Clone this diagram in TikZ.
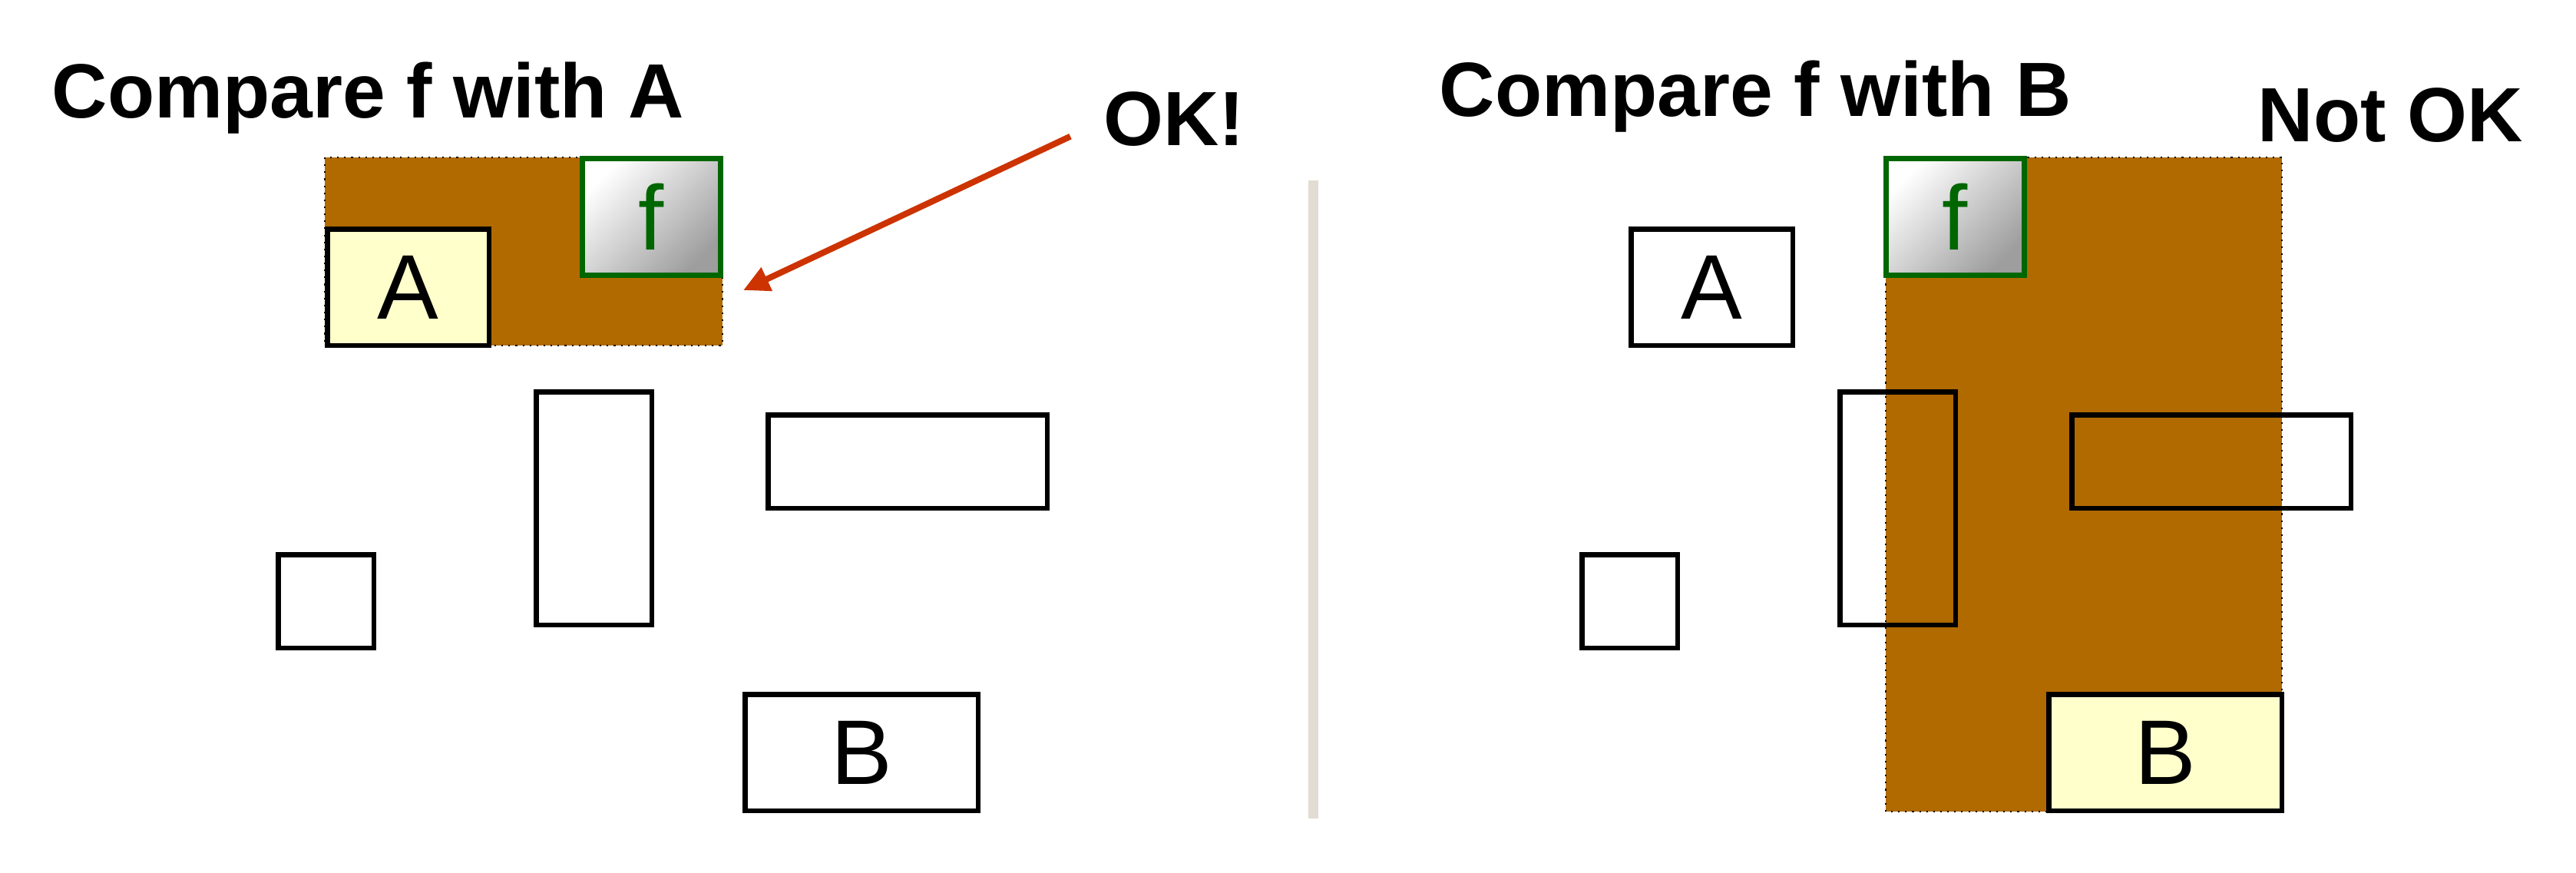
\documentclass[tikz,border=0pt]{standalone}
\usepackage{fontspec}
\setmainfont{Liberation Sans}
\usetikzlibrary{arrows.meta}

\definecolor{regionbrown}{HTML}{B06A00}
\definecolor{boxyellow}{HTML}{FFFFCC}
\definecolor{fgreen}{HTML}{006600}
\definecolor{okred}{HTML}{CC3300}
\definecolor{divider}{HTML}{E2DCD2}

\begin{document}
\begin{tikzpicture}[
    box/.style={draw, line width=0.065cm, inner sep=0pt},
    fbox/.style={draw=fgreen, line width=0.07cm, inner sep=0pt,
      left color=white, right color=black!38, shading angle=45,
      minimum width=1.80cm, minimum height=1.52cm,
      text=fgreen, font=\fontsize{34}{40}\selectfont},
    letter/.style={font=\fontsize{34}{40}\selectfont},
    region/.style={fill=regionbrown, draw=black, dotted, line width=0.6pt},
    title/.style={anchor=base west, inner sep=0pt, font=\bfseries\fontsize{28.5}{34}\selectfont},
    okarrow/.style={draw=okred, line width=0.08cm, -{Triangle[length=0.34cm,width=0.32cm]}}
  ]
      \useasboundingbox (0, 0) rectangle (33.55, 11.36);

      % left: compare f with A
      \node[title] (titleA) at (0.67, 9.83){Compare f with A};
      \node[title] (ok) at (14.37, 9.47){OK!};

      \coordinate (regAnw) at (4.23, 9.31);
      \coordinate (regAse) at (9.41, 6.86);
      \fill[regionbrown] (regAnw) rectangle (regAse);
      \draw[black, dotted, line width=0.6pt] (regAnw) rectangle (regAse);

      \node[box, fill=boxyellow, letter, minimum width=2.105cm, minimum height=1.515cm] (aL) at (5.315, 7.62){A};
      \node[fbox] (fL) at (8.485, 8.535){f};
      \node[box, minimum width=1.505cm, minimum height=3.035cm] (tallL) at (7.735, 4.74){};
      \node[box, minimum width=3.635cm, minimum height=1.215cm] (wideL) at (11.82, 5.35){};
      \node[box, minimum width=1.245cm, minimum height=1.215cm] (smallL) at (4.245, 3.53){};
      \node[box, letter, minimum width=3.035cm, minimum height=1.515cm] (bL) at (11.22, 1.56){B};

      \coordinate (okTip) at (9.68, 7.58);
      \draw[okarrow] ([xshift=-0.43cm, yshift=0.13cm]ok.south west) -- (okTip);

      % divider
      \draw[divider, line width=0.13cm] (17.10, 0.70) to (17.10, 9.01);

      % right: compare f with B
      \node[title] (titleB) at (18.74, 9.85){Compare f with B};
      \node[title] (notok) at (29.40, 9.52){Not OK};

      \coordinate (regBnw) at (24.56, 9.31);
      \coordinate (regBse) at (29.72, 0.79);
      \fill[regionbrown] (regBnw) rectangle (regBse);
      \draw[black, dotted, line width=0.6pt] (regBnw) rectangle (regBse);

      \node[box, letter, minimum width=2.105cm, minimum height=1.515cm] (aR) at (22.295, 7.62){A};
      \node[fbox] (fR) at (25.465, 8.535){f};
      \node[box, minimum width=1.505cm, minimum height=3.035cm] (tallR) at (24.715, 4.74){};
      \node[box, minimum width=3.635cm, minimum height=1.215cm] (wideR) at (28.80, 5.35){};
      \node[box, minimum width=1.245cm, minimum height=1.215cm] (smallR) at (21.225, 3.53){};
      \node[box, fill=boxyellow, letter, minimum width=3.035cm, minimum height=1.515cm] (bR) at (28.20, 1.56){B};

    \end{tikzpicture}
\end{document}
